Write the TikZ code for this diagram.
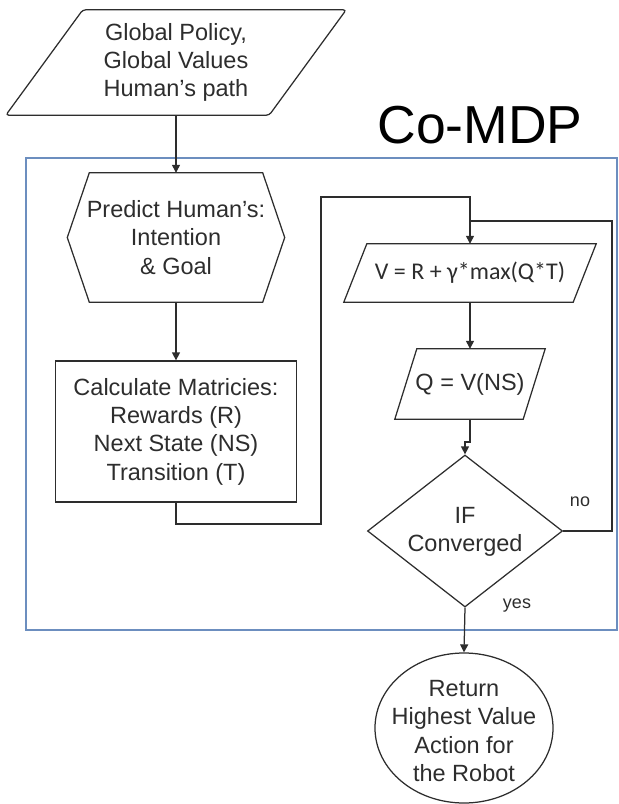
\documentclass[tikz,border=0pt]{standalone}
\usepackage{fontspec}
\setmainfont{Liberation Sans}
\newfontfamily\calfont{Carlito}
\usetikzlibrary{arrows.meta,shapes.geometric,calc}
\definecolor{ink}{RGB}{45,45,45}
\definecolor{mdpblue}{RGB}{108,142,191}
\tikzset{
  box/.style={inner sep=0pt, align=center, text=ink, font=\fontsize{23.5}{28.3}\selectfont},
  line/.style={draw=ink, line width=1.25pt},
  arr/.style={line, -{Triangle[length=8pt,width=8pt]}},
  lbl/.style={text=ink, inner sep=0pt, font=\fontsize{18}{20}\selectfont},
}
\begin{document}
\begin{tikzpicture}[x=1pt,y=-1pt]
\useasboundingbox (0,0) rectangle (619,804);
% container
\draw[draw=mdpblue, line width=2pt] (26,158) rectangle (617,630);
\node[anchor=base, text=black, inner sep=0pt, font=\fontsize{53.5}{60}\selectfont] (title) at (480,143) {Co-MDP};

% input parallelogram
\node[box, minimum width=340pt, minimum height=105pt] (inp) at (176,62.5)
  {Global Policy,\\Global Values\\Human's path};
\draw[line, rounded corners=3pt] ($(inp.north west)+(77,0)$) -- (inp.north east)
  -- ($(inp.south east)-(77,0)$) -- (inp.south west) -- cycle;

% hexagon
\node[box, minimum width=217pt, minimum height=129pt] (hex) at (176,237.5)
  {Predict Human's:\\Intention\\\& Goal};
\draw[line] ($(hex.north west)+(22,0)$) -- ($(hex.north east)-(22,0)$) -- (hex.east)
  -- ($(hex.south east)-(22,0)$) -- ($(hex.south west)+(22,0)$) -- (hex.west) -- cycle;

% calculate rectangle
\node[box, draw=ink, line width=1.25pt, minimum width=241pt, minimum height=141pt] (calc) at (176,431.5)
  {Calculate Matricies:\\Rewards (R)\\Next State (NS)\\Transition (T)};

% V parallelogram
\node[box, font=\calfont\fontsize{24}{28}\selectfont, minimum width=252pt, minimum height=58pt] (v) at (470,273)
  {V = R + γ*max(Q*T)};
\draw[line] ($(v.north west)+(23,0)$) -- (v.north east) -- ($(v.south east)-(23,0)$)
  -- (v.south west) -- cycle;

% Q parallelogram
\node[box, minimum width=150pt, minimum height=70pt] (q) at (470,384)
  {Q = V(NS)};
\draw[line] ($(q.north west)+(22,0)$) -- (q.north east) -- ($(q.south east)-(22,0)$)
  -- (q.south west) -- cycle;

% decision diamond
\node[diamond, draw=ink, line width=1.25pt, inner sep=0pt, minimum width=195pt, minimum height=152pt] (dec) at (465,531) {};
\node[box] (dect) at (465,531.5) {IF\\Converged};

% return ellipse
\node[ellipse, draw=ink, line width=1.25pt, inner sep=0pt, minimum width=178pt, minimum height=150pt] (ret) at (464,728) {};
\node[box] (rett) at (464,731) {Return\\Highest Value\\Action for\\the Robot};

% helper coordinates
\coordinate (c1) at (321,524);
\coordinate (c2) at (321,197);
\coordinate (c4) at (612,221);
\coordinate (c3) at (470,221);
\coordinate (j) at (470,442);

% connectors
\draw[arr] (inp.south) -- (hex.north);
\draw[arr] (hex.south) -- (calc.north);
\draw[arr] (calc.south) |- (c1) -- (c2) -| (v.north);
\draw[arr] (v.south) -- (q.north);
\draw[arr] (q.south) -- (j) -| (dec.north);
\draw[line] (dec.east) -| (c4) -- (c3);
\draw[arr] (dec.south) -- (ret.north);

% labels
\node[lbl] (no) at (580,502) {no};
\node[lbl] (yes) at (517,606) {yes};
\end{tikzpicture}
\end{document}
